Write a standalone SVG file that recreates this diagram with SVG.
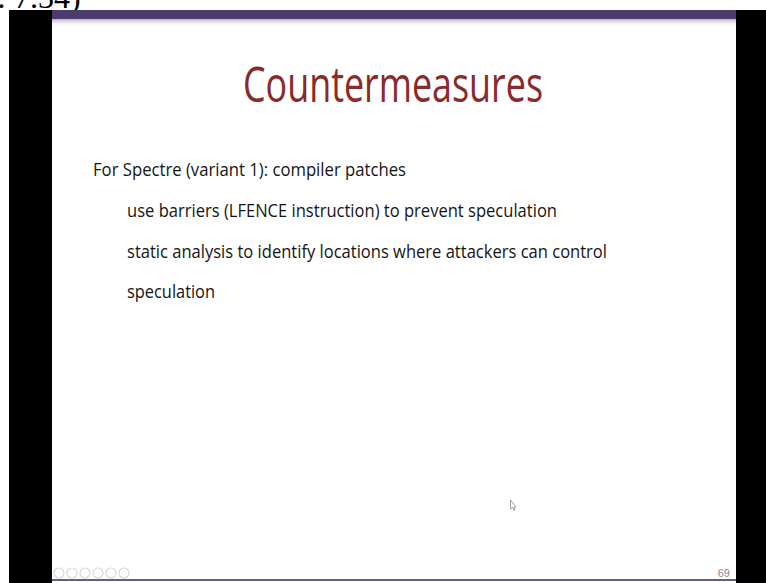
<svg xmlns="http://www.w3.org/2000/svg" width="766" height="583" viewBox="0 0 766 583">
  <defs>
    <linearGradient id="barShade" x1="0" y1="0" x2="0" y2="1">
      <stop offset="0" stop-color="#8a7f9a" stop-opacity="0.6"/>
      <stop offset="1" stop-color="#ffffff" stop-opacity="0"/>
    </linearGradient>
  </defs>
  <style>
    .body { font-family: "Open Sans", "Liberation Sans", sans-serif; font-size: 19px; fill: #151515; }
    .title { font-family: "Open Sans", "Liberation Sans", sans-serif; font-size: 50px; fill: #8a2a2a; }
    .nav { fill: none; stroke: #d8d8dc; stroke-width: 1.2; }
  </style>

  <!-- page background -->
  <rect x="0" y="0" width="766" height="583" fill="#ffffff"/>

  <!-- caption fragment above the slide -->
  <text x="-3" y="8" font-family="'Liberation Serif', serif" font-size="32" fill="#000">: 7.34)</text>

  <!-- side bars -->
  <rect x="9" y="10" width="43" height="573" fill="#000"/>
  <rect x="736" y="10" width="30" height="573" fill="#000"/>

  <!-- slide -->
  <g id="slide">
    <rect x="52" y="10" width="684" height="573" fill="#ffffff"/>
    <rect x="52" y="10" width="684" height="9" fill="#4d3b6d"/>
    <rect x="52" y="19" width="684" height="8" fill="url(#barShade)"/>
    <rect x="52" y="579" width="684" height="2" fill="#6a5a86"/>
  </g>

  <g id="title">
    <text class="title" x="243" y="102" textLength="300" lengthAdjust="spacingAndGlyphs">Countermeasures</text>
  </g>

  <g id="bullets">
    <text class="body" x="93" y="176" textLength="313" lengthAdjust="spacingAndGlyphs">For Spectre (variant 1): compiler patches</text>
    <text class="body" x="127" y="217" textLength="430" lengthAdjust="spacingAndGlyphs">use barriers (LFENCE instruction) to prevent speculation</text>
    <text class="body" x="127" y="258" textLength="480" lengthAdjust="spacingAndGlyphs">static analysis to identify locations where attackers can control</text>
    <text class="body" x="127" y="298" textLength="88" lengthAdjust="spacingAndGlyphs">speculation</text>
  </g>

  <!-- mouse pointer -->
  <path d="M510.5 500 L510.5 509 L512.5 507.5 L514 510.5 L515 510 L513.8 507 L516 507 Z" fill="#ffffff" stroke="#8a8a8a" stroke-width="0.8"/>

  <!-- navigation icons -->
  <g id="nav">
    <circle class="nav" cx="59" cy="573" r="5"/>
    <circle class="nav" cx="72" cy="573" r="5"/>
    <circle class="nav" cx="85" cy="573" r="5"/>
    <circle class="nav" cx="98" cy="573" r="5"/>
    <circle class="nav" cx="111" cy="573" r="5"/>
    <circle class="nav" cx="124" cy="573" r="5"/>
  </g>

  <!-- slide number -->
  <text x="730" y="577" text-anchor="end" font-family="'Liberation Sans', sans-serif" font-size="11" fill="#8a8a8a">69</text>
</svg>
